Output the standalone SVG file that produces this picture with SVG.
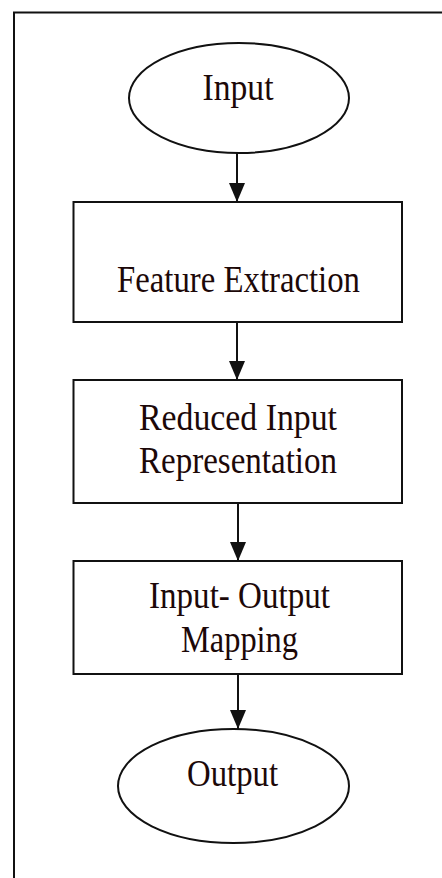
<svg xmlns="http://www.w3.org/2000/svg" width="442" height="878" viewBox="0 0 442 878">
  <style>
    .shape { fill: #ffffff; stroke: #111111; stroke-width: 2; }
    .label { font-family: "Liberation Serif", "Times New Roman", serif; font-size: 37px; fill: #1c0808; text-anchor: middle; }
    .edge { stroke: #111111; stroke-width: 2; fill: none; }
  </style>
  <defs>
    <marker id="arrow" markerWidth="19" markerHeight="16" refX="19" refY="8" orient="auto" markerUnits="userSpaceOnUse" viewBox="0 0 19 16">
      <path d="M0,0 L19,8 L0,16 Z" fill="#111111"/>
    </marker>
  </defs>

  <rect width="442" height="878" fill="#ffffff"/>
  <!-- page frame -->
  <path d="M14,878 V12.5 H442" fill="none" stroke="#111111" stroke-width="2"/>

  <g id="connectors">
    <line class="edge" x1="237" y1="153" x2="237" y2="202" marker-end="url(#arrow)"/>
    <line class="edge" x1="237" y1="322" x2="237" y2="380" marker-end="url(#arrow)"/>
    <line class="edge" x1="238" y1="503" x2="238" y2="561" stroke="#6e6e6e" marker-end="url(#arrow)"/>
    <line class="edge" x1="238" y1="674" x2="238" y2="729" marker-end="url(#arrow)"/>
  </g>

  <g id="input">
    <ellipse class="shape" cx="239" cy="98" rx="110" ry="55"/>
    <text class="label" x="238" y="100" textLength="71" lengthAdjust="spacingAndGlyphs">Input</text>
  </g>

  <g id="feature-extraction">
    <rect class="shape" x="73.5" y="202" width="328.5" height="120"/>
    <text class="label" x="238.5" y="292" textLength="243" lengthAdjust="spacingAndGlyphs">Feature Extraction</text>
  </g>

  <g id="reduced-representation">
    <rect class="shape" x="73.5" y="380" width="328.5" height="123"/>
    <text class="label" x="238" y="430" textLength="198" lengthAdjust="spacingAndGlyphs">Reduced Input</text>
    <text class="label" x="238" y="473" textLength="198" lengthAdjust="spacingAndGlyphs">Representation</text>
  </g>

  <g id="io-mapping">
    <rect class="shape" x="73.5" y="561" width="328.5" height="113"/>
    <text class="label" x="239.5" y="608" textLength="181" lengthAdjust="spacingAndGlyphs">Input- Output</text>
    <text class="label" x="239.5" y="652" textLength="117" lengthAdjust="spacingAndGlyphs">Mapping</text>
  </g>

  <g id="output">
    <ellipse class="shape" cx="233.5" cy="786" rx="115.5" ry="57"/>
    <text class="label" x="232.5" y="786" textLength="91" lengthAdjust="spacingAndGlyphs">Output</text>
  </g>
</svg>
